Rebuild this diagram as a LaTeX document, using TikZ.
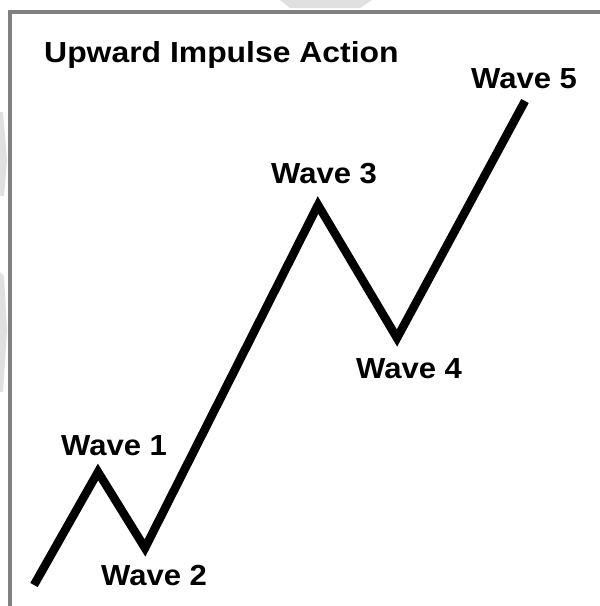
\documentclass[tikz,border=0pt]{standalone}
\usepackage{fontspec}
\setmainfont{Liberation Sans}
\begin{document}
\begin{tikzpicture}[x=1pt,y=-1pt,
  wavelabel/.style={inner sep=0pt,anchor=base west,xscale=1.07,
    font=\fontsize{29}{34}\selectfont\bfseries},
  waveline/.style={line width=8.5pt,line join=miter,line cap=butt},
  framestyle/.style={draw=black!50,line width=4pt},
  mark fill/.style={fill=black!12,draw=none}]
\useasboundingbox (0,0) rectangle (600,606);
\fill[white] (0,0) rectangle (600,606);
% faint watermark fragments outside the frame
\fill[mark fill] (280,0) -- (372,0) -- (360,8) -- (290,8) -- cycle;
\fill[mark fill] (0,112) -- (3,112) -- (7,160) -- (4,196) -- (0,196) -- cycle;
\fill[mark fill] (0,272) -- (4,276) -- (7,330) -- (3,392) -- (0,392) -- cycle;
% frame (top and left edges)
\draw[framestyle] (600,12) -- (10,12) -- (10,606);
% title
\node[wavelabel,xscale=1.028] (title) at (44,62) {Upward Impulse Action};
% wave points
\coordinate (s) at (34,585);
\coordinate (w1) at (98,472);
\coordinate (w2) at (145,548);
\coordinate (w3) at (318,205);
\coordinate (w4) at (397,338);
\coordinate (w5) at (525,101);
\draw[waveline] (s) -- (w1) -- (w2) -- (w3) -- (w4) -- (w5);
% labels
\node[wavelabel] (l1) at (61,455) {Wave 1};
\node[wavelabel] (l2) at (101,585) {Wave 2};
\node[wavelabel] (l3) at (271,183) {Wave 3};
\node[wavelabel] (l4) at (356,378) {Wave 4};
\node[wavelabel] (l5) at (471,88) {Wave 5};
\end{tikzpicture}
\end{document}
